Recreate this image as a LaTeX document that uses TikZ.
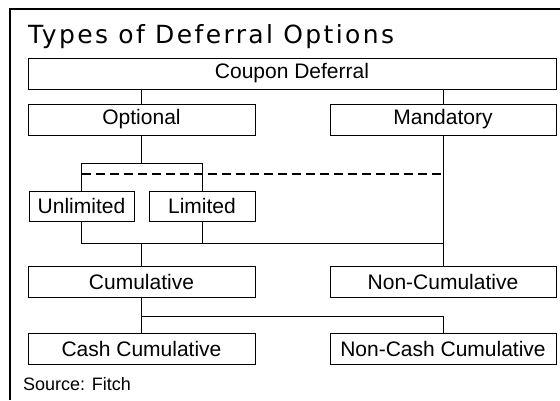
\documentclass[tikz,border=0pt]{standalone}
\usepackage{fontspec}
\setmainfont{Liberation Sans}
\newfontfamily\titlefont[LetterSpace=9.5]{DejaVu Sans}
\usetikzlibrary{positioning,calc}

\tikzset{
  optbox/.style={rectangle, draw, line width=1pt, inner sep=0pt, minimum height=31pt,
    font=\fontsize{21}{21}\selectfont},
  link/.style={line width=1pt},
  deflink/.style={line width=2pt, dash pattern=on 9pt off 5pt}
}

\begin{document}
\begin{tikzpicture}[x=1pt, y=-1pt]
    \useasboundingbox (0,0) rectangle (560,400);
    % Frame and title
    \draw[line width=1.2pt] (10,400) -- (10,9) -- (560,9);
    \node[anchor=base west, inner sep=0pt, font=\titlefont\fontsize{25}{25}\selectfont] (title) at (28,43) {Types of Deferral Options};

    % Top level
    \node[optbox, minimum width=528pt] (coupon) at (292,73.5) {Coupon Deferral};
    \node[optbox, minimum width=227pt] (optional) at (141.5,119.5) {Optional};
    \node[optbox, minimum width=226pt] (mandatory) at (443,119.5) {Mandatory};

    % Optional split
    \node[optbox, minimum width=105pt, minimum height=30pt] (unlimited) at (81.5,206) {Unlimited};
    \node[optbox, minimum width=106pt, minimum height=30pt] (limited) at (202,206) {Limited};

    % Cumulative level
    \node[optbox, minimum width=227pt] (cumulative) at (141.5,281.5) {Cumulative};
    \node[optbox, minimum width=226pt] (noncum) at (443,281.5) {Non-Cumulative};
    \node[optbox, minimum width=227pt] (cash) at (141.5,348.5) {Cash Cumulative};
    \node[optbox, minimum width=226pt] (noncash) at (443,348.5) {Non-Cash Cumulative};

    % Connectors
    \draw[link] (optional.north) -- (optional.north |- coupon.south);
    \draw[link] (mandatory.north) -- (mandatory.north |- coupon.south);
    \draw[link] (optional.south) -- ++(0,28) coordinate (split);
    \draw[link] (unlimited.north) |- (split) -| (limited.north);
    \draw[deflink] (unlimited.north |- 0,174) -- (mandatory.south |- 0,174);
    \draw[link] (mandatory) -- (noncum);
    \coordinate (merge) at (141.5,243);
    \draw[link] (unlimited.south) |- (noncum.north |- merge);
    \draw[link] (limited.south) -- (limited.south |- merge);
    \draw[link] (merge) -- (cumulative.north);
    \draw[link] (cumulative.south) -- ++(0,19) coordinate (cashsplit);
    \draw[link] (cashsplit) -- (cash.north);
    \draw[link] (cashsplit) -| (noncash.north);

    % Source
    \node[anchor=base west, inner sep=0pt, font=\fontsize{18}{18}\selectfont] (source) at (23,390) {Source: Fitch};
\end{tikzpicture}
\end{document}
